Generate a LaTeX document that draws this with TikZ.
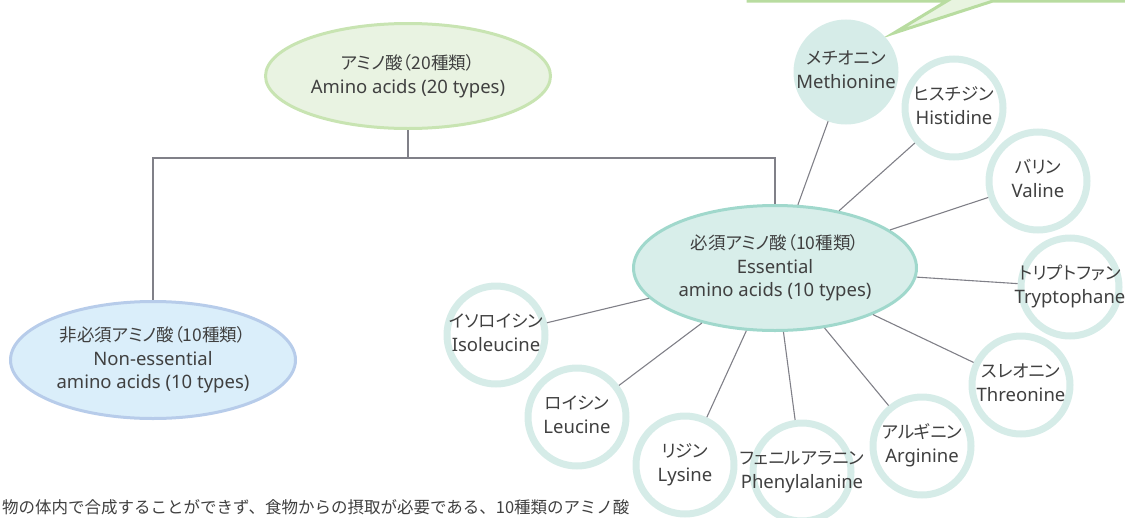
\documentclass[tikz,border=0pt]{standalone}
\usepackage{fontspec}
\setmainfont{Noto Sans}
\newfontfamily\jpfont[RawFeature=+palt]{Noto Sans CJK JP}
\newfontfamily\jpbody{Noto Sans CJK JP}
\usetikzlibrary{shapes.geometric}
\definecolor{txt}{RGB}{64,64,64}
\definecolor{linec}{RGB}{128,128,136}
\definecolor{calloutfill}{RGB}{232,244,224}
\definecolor{calloutdraw}{RGB}{184,220,160}
\definecolor{topfill}{RGB}{233,243,226}
\definecolor{topdraw}{RGB}{200,228,178}
\definecolor{nonfill}{RGB}{218,238,250}
\definecolor{nondraw}{RGB}{183,204,234}
\definecolor{essfill}{RGB}{216,238,234}
\definecolor{essdraw}{RGB}{160,216,204}
\definecolor{ringc}{RGB}{214,236,232}
\newcommand\jpl[1]{{\jpfont\fontsize{17.5}{23.5}\selectfont #1}}
\newcommand\twol[2]{\makebox[0pt]{\begin{tabular}{@{}c@{}}\jpl{#1}\\#2\end{tabular}}}
\tikzset{
  lbl/.style={text=txt, align=center, font=\fontsize{18.5}{23.5}\selectfont, inner sep=0pt},
  bigell/.style={lbl, ellipse, line width=3pt},
  ring/.style={lbl, circle, minimum size=98pt, line width=7pt, draw=ringc, fill=white},
  dotc/.style={lbl, circle, minimum size=98pt, line width=7pt, draw=ringc, fill=ringc},
  conn/.style={draw=linec, line width=1.1pt},
}
\begin{document}
\begin{tikzpicture}[x=1pt,y=-1pt]
\useasboundingbox (0,0) rectangle (1125,517);
\clip (0,0) rectangle (1125,517);
% callout
\filldraw[fill=calloutfill, draw=calloutdraw, line width=3pt, line join=miter]
  (748,-30) -- (748,1) -- (947,1) -- (894,33) -- (993,1) -- (1160,1) -- (1160,-30) -- cycle;
% main ellipses
\node[bigell, fill=topfill, draw=topdraw, minimum width=285pt, minimum height=105pt] (top) at (408,76)
  {\jpl{アミノ酸（20種類）}\\Amino acids (20 types)};
\node[bigell, fill=nonfill, draw=nondraw, minimum width=285pt, minimum height=117pt] (non) at (153,360)
  {\jpl{非必須アミノ酸（10種類）}\\Non-essential\\amino acids (10 types)};
\node[bigell, fill=essfill, draw=essdraw, minimum width=283pt, minimum height=125pt] (ess) at (775,268)
  {\jpl{必須アミノ酸（10種類）}\\Essential\\amino acids (10 types)};
% tree
\coordinate (j) at (408,158);
\draw[conn] (top.south) -- (j);
\draw[conn] (j) -| (non.north);
\draw[conn] (j) -| (ess.north);
% amino acid circles
\node[dotc] (met) at (846,72) {\twol{メチオニン}{Methionine}};
\node[ring] (his) at (954,108) {\twol{ヒスチジン}{Histidine}};
\node[ring] (val) at (1038,181) {\twol{バリン}{Valine}};
\node[ring] (try) at (1070,287) {\twol{トリプトファン}{Tryptophane}};
\node[ring] (thr) at (1021,385) {\twol{スレオニン}{Threonine}};
\node[ring] (arg) at (922,446) {\twol{アルギニン}{Arginine}};
\node[ring] (phe) at (802,472) {\twol{フェニルアラニン}{Phenylalanine}};
\node[ring] (lys) at (685,465) {\twol{リジン}{Lysine}};
\node[ring] (leu) at (577,417) {\twol{ロイシン}{Leucine}};
\node[ring] (ile) at (496,335) {\twol{イソロイシン}{Isoleucine}};
\foreach \n in {met,his,val,try,thr,arg,phe,lys,leu,ile}
  \draw[conn] (ess) -- (\n);
% bottom text
\node[anchor=base west, inner sep=0pt, text=txt, font=\jpbody\fontsize{16.5}{20}\selectfont] (note) at (2,513)
  {物の体内で合成することができず、食物からの摂取が必要である、10種類のアミノ酸};
\end{tikzpicture}
\end{document}
